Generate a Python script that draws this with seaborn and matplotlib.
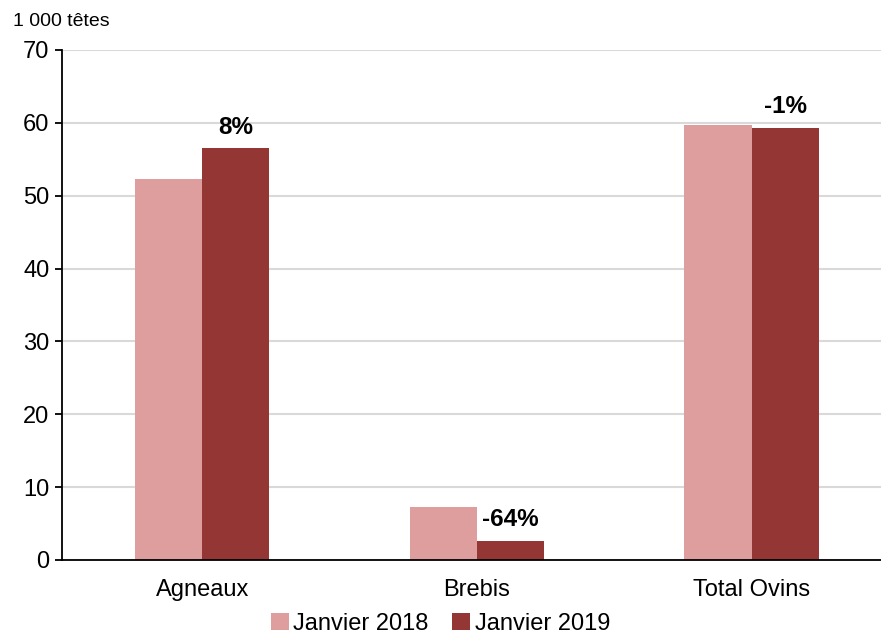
import pandas as pd
import matplotlib
matplotlib.use("Agg")
import matplotlib.pyplot as plt
import seaborn as sns
from matplotlib.ticker import FixedLocator

# ==========================================
# DATA
# ==========================================
categories = ["Agneaux", "Brebis", "Total Ovins"]
series_names = ["Janvier 2018", "Janvier 2019"]
values_2018 = [52.3, 7.3, 59.7]
values_2019 = [56.5, 2.6, 59.3]
change_labels = ["8%", "-64%", "-1%"]
y_ticks = [0, 10, 20, 30, 40, 50, 60, 70]

COLORS = ["#DE9E9E", "#943634"]

df = pd.DataFrame({
    "Catégorie": categories * 2,
    "Période": [series_names[0]] * 3 + [series_names[1]] * 3,
    "Valeur": values_2018 + values_2019,
})

# ==========================================
# PLOT
# ==========================================
sns.set_theme(style="white")
plt.rcParams["font.family"] = ["Liberation Sans", "DejaVu Sans"]
plt.rcParams["text.color"] = "black"

fig = plt.figure(figsize=(8.81, 6.35), dpi=100)
ax = fig.add_axes([62 / 881, 1 - 560 / 635, 1 - 62 / 881, 510 / 635])

sns.barplot(data=df, x="Catégorie", y="Valeur", hue="Période",
            palette=COLORS, width=0.49, gap=0, linewidth=0,
            saturation=1, ax=ax, legend=True)

# variation labels over the 2019 bars
ax.bar_label(ax.containers[1], labels=change_labels, padding=7,
             fontsize=17.5, fontweight="bold", color="black")

ax.set_ylim(0, 70)
ax.set_xlim(-0.51, 2.47)
ax.set_yticks(y_ticks)
ax.yaxis.grid(True, color="#D9D9D9", linewidth=1.5)
ax.set_axisbelow(True)

ax.xaxis.set_minor_locator(FixedLocator([0.5, 1.5]))
ax.tick_params(axis="x", which="major", length=0, labelsize=17, pad=14, labelcolor="black")
ax.tick_params(axis="x", which="minor", length=6, width=1.3, direction="out", color="black")
ax.tick_params(axis="y", length=5, width=1.3, direction="out", left=True,
               labelsize=17, pad=4, labelcolor="black", color="black")

for side in ["top", "right"]:
    ax.spines[side].set_visible(False)
for side in ["left", "bottom"]:
    ax.spines[side].set_color("black")
    ax.spines[side].set_linewidth(1.3)

ax.set_xlabel("")
ax.set_ylabel("")

fig.text(13 / 881, 1 - 22 / 635, "1 000 têtes", fontsize=14, va="center", ha="left",
         color="black")

handles, lbls = ax.get_legend_handles_labels()
ax.get_legend().remove()
fig.legend(handles, lbls, loc="center", bbox_to_anchor=(0.5, 1 - 624 / 635),
           ncol=2, frameon=False, fontsize=17, handlelength=0.75, handleheight=0.75,
           handletextpad=0.2, columnspacing=1.0, labelcolor="black")

fig.savefig("out.png", dpi=100)
